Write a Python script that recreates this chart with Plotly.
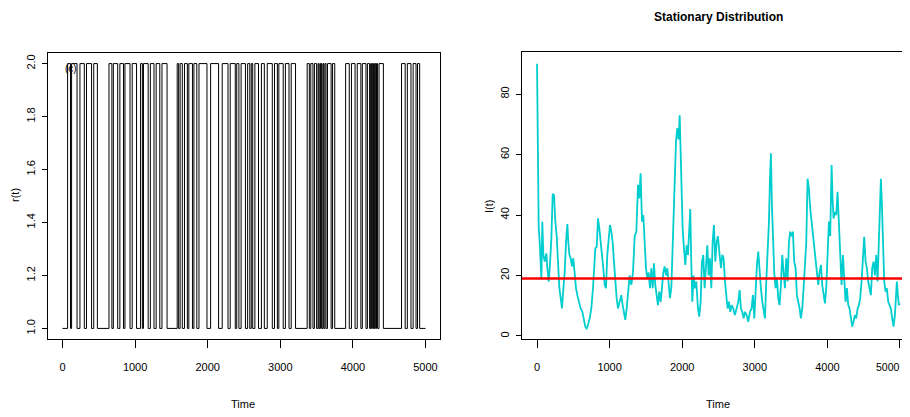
import plotly.graph_objects as go

# ---------------- data ----------------
# Left panel: regime r(t) switches between 1 and 2 (start in state 1)
r_start_state = 1
r_switch_times = [
    70, 110, 125, 200, 240, 300, 330, 400, 430, 480,
    640, 680, 700, 760, 790, 840, 860, 930, 960, 1020,
    1075, 1100, 1115, 1180, 1210, 1260, 1290, 1340, 1370, 1440,
    1580, 1600, 1620, 1650, 1680, 1720, 1740, 1790, 1810, 1850, 1880, 1990,
    2040, 2150, 2200, 2280, 2310, 2380, 2400, 2430, 2460, 2520, 2550, 2580,
    2600, 2620, 2650, 2700, 2740, 2780, 2820, 2890,
    2920, 2960, 2980, 3040, 3070, 3120, 3150, 3210,
    3370, 3400, 3420, 3450, 3470, 3500, 3520, 3530, 3545, 3555, 3565, 3575,
    3590, 3600, 3615, 3630, 3650, 3700, 3720, 3750,
    3900, 3950, 3980, 4030, 4060, 4110, 4130, 4180, 4200, 4230, 4245, 4255,
    4265, 4275, 4285, 4295, 4305, 4315, 4325, 4340, 4360, 4420,
    4670, 4720, 4750, 4800, 4830, 4870, 4890, 4920,
]
r_end_time = 5000

# Right panel: I(t) trajectory
I_time = [
    0, 14, 23, 37, 50, 60, 73, 87, 106, 129, 142, 161, 174, 197, 216, 234, 252, 271, 289, 308,
    326, 344, 363, 381, 399, 418, 431, 445, 464, 482, 500, 519, 537, 555, 574, 601, 624, 647, 666, 684,
    702, 725, 748, 771, 785, 803, 822, 840, 858, 877, 895, 913, 932, 950, 968, 987, 1005, 1024, 1042, 1060,
    1079, 1097, 1115, 1138, 1161, 1180, 1198, 1216, 1235, 1253, 1276, 1299, 1322, 1345, 1368, 1391, 1409, 1427, 1446, 1464,
    1483, 1501, 1519, 1538, 1556, 1574, 1593, 1611, 1629, 1648, 1666, 1684, 1703, 1721, 1740, 1758, 1776, 1795, 1813, 1831,
    1850, 1868, 1887, 1900, 1914, 1932, 1951, 1965, 1978, 1987, 2006, 2024, 2043, 2061, 2079, 2098, 2111, 2125, 2139, 2157,
    2171, 2194, 2217, 2235, 2254, 2272, 2290, 2309, 2327, 2346, 2364, 2382, 2401, 2419, 2437, 2456, 2474, 2492,
    2515, 2534, 2552, 2570, 2589, 2607, 2625, 2644, 2662, 2681, 2703, 2726, 2749, 2772, 2791, 2809, 2827, 2846, 2864, 2887,
    2910, 2933, 2956, 2974, 2993, 3011, 3029, 3048, 3066, 3084, 3103, 3121, 3140, 3158, 3176, 3195, 3208, 3222, 3236, 3250,
    3268, 3286, 3305, 3323, 3341, 3360, 3378, 3397, 3415, 3433, 3452, 3470, 3488, 3507, 3525, 3543, 3562, 3580, 3599, 3617,
    3635, 3654, 3672, 3690, 3709, 3727, 3745, 3764, 3782, 3800, 3819, 3837, 3856, 3874, 3892, 3911, 3929, 3947, 3966, 3984,
    4002, 4021, 4039, 4058, 4071, 4085, 4103, 4122, 4140, 4158, 4177, 4195, 4214, 4232, 4250, 4269, 4287, 4305, 4324, 4342,
    4360, 4379, 4397, 4416, 4434, 4452, 4471, 4489, 4507, 4526, 4544, 4562, 4581, 4599, 4617, 4636, 4654, 4673, 4691, 4709,
    4723, 4737, 4751, 4764, 4783, 4801, 4819, 4838, 4856, 4874, 4893, 4911, 4930, 4943, 4957, 4971, 4985, 4998,
]
I_value = [
    90, 49, 36, 31, 24.6, 18.8, 37.8, 26.8, 24.6, 27.3, 22.4, 18, 22, 32, 47, 46.6, 37.8, 33, 24.6, 15.8,
    12.5, 9.1, 15.8, 21, 31, 37, 31, 27, 25.7, 23, 25.7, 20, 15.8, 13.5, 11.3, 9.1, 8, 5.8, 3, 2.5,
    3.6, 5.8, 9.1, 15.8, 21, 29, 29.5, 38.9, 35.6, 30, 25.7, 22.4, 16.9, 15.8, 26.8, 33, 36.7, 34.5, 31, 24.6,
    18, 12.5, 9.1, 11.3, 13.5, 10.2, 8, 5.3, 9.1, 13.5, 20, 16.9, 21, 33, 34.5, 50, 45.5, 53.8, 37.8, 40,
    27.9, 22.4, 19, 21, 15.8, 22.4, 15.8, 24, 16.9, 12.5, 10.2, 14.7, 11.3, 15.8, 21, 23, 20, 22.4, 15.8, 12.5,
    15.8, 31, 43, 55, 64, 68.7, 65, 73, 60, 49, 35.6, 29, 23.5, 30, 26.8, 35.6, 42, 24.6, 11.3, 20,
    15.8, 18, 9.1, 6.4, 11.3, 24.6, 26.8, 15.8, 22.4, 30, 20, 25.7, 15.8, 31, 36.7, 24.6, 31, 33,
    26.8, 22.4, 26.8, 25.7, 18, 13.5, 9.1, 11.3, 8, 10.2, 9.1, 6.9, 9.1, 11.3, 15.2, 9.1, 8, 5.8, 8, 6.9,
    4.7, 8, 9.1, 13.5, 5.8, 18, 23.5, 27.9, 21, 15.8, 11.3, 9.1, 5.8, 18, 26.8, 37.8, 51, 60.4, 43.3, 31,
    21, 15.8, 19, 12.5, 10.2, 16.9, 26.8, 21, 15.8, 25.7, 18, 31, 34.5, 33, 34.5, 24.6, 22.4, 13.5, 11.3, 9.1,
    5.8, 9.1, 15.8, 22.4, 31, 52, 48.8, 42, 37.8, 34.5, 31, 26.8, 22.4, 16.9, 21, 23.5, 16.9, 13.5, 10.8, 15.8,
    24.6, 37.8, 33, 56.5, 45.5, 38.9, 41, 40, 47.7, 35.6, 26.8, 16.9, 26.8, 16.9, 11.3, 15.8, 10.2, 9.1, 5.8, 3.1,
    4.7, 6.9, 5.8, 9.1, 10.2, 12.5, 18, 26.8, 32.8, 24.6, 22.4, 18, 15.8, 13.5, 22.4, 24.6, 20, 26.8, 18, 30,
    38.9, 52, 43.3, 31, 18, 14.7, 15.8, 11.3, 10.2, 9.1, 5.8, 3.1, 6.9, 13.5, 18, 13.5, 10.2, 10.8,
]
stationary_level = 19

x_ticks = [0, 1000, 2000, 3000, 4000, 5000]
x_tick_text = ["0", "1000", "2000", "3000", "4000", "5000"]
r_ticks = [1.0, 1.2, 1.4, 1.6, 1.8, 2.0]
r_tick_text = ["1.0", "1.2", "1.4", "1.6", "1.8", "2.0"]
I_ticks = [0, 20, 40, 60, 80]

# ---------------- build step series ----------------
r_x = [0] + r_switch_times + [r_end_time]
r_y = []
state = r_start_state
r_y.append(state)
for _ in r_switch_times:
    state = 3 - state
    r_y.append(state)
r_y.append(state)

FONT = "Liberation Sans, Arial, sans-serif"
OFF = 8            # page body margin
W, H = 910 - OFF, 417 - 2 * OFF

def px_x(p):
    return (p - OFF) / W

def px_y(p):
    return 1 - (p - OFF) / H

fig = go.Figure()
fig.add_trace(go.Scatter(x=r_x, y=r_y, mode="lines", line=dict(color="black", width=1, shape="hv"),
                         xaxis="x", yaxis="y", showlegend=False, hoverinfo="skip"))
fig.add_trace(go.Scatter(x=I_time, y=I_value, mode="lines", line=dict(color="#00CDCD", width=1.8),
                         xaxis="x2", yaxis="y2", showlegend=False, hoverinfo="skip"))

fig.add_shape(type="line", xref="x2 domain", yref="y2", x0=0, x1=1, y0=stationary_level, y1=stationary_level,
              line=dict(color="red", width=2.5))

axis_common = dict(showgrid=False, zeroline=False, showline=True, linecolor="black", linewidth=1,
                   ticks="outside", tickcolor="black", tickwidth=1,
                   tickfont=dict(family=FONT, size=11, color="black"))

# right panel: last x label is placed as an annotation so it stays visible at the page edge
x2_tick_text = x_tick_text[:-1] + [""]

fig.update_layout(
    width=W, height=H, margin=dict(l=0, r=0, t=0, b=0),
    paper_bgcolor="white", plot_bgcolor="white",
    xaxis=dict(domain=[px_x(48), px_x(440)], range=[-200, 5200], tickvals=x_ticks, ticktext=x_tick_text,
               ticklen=8, ticklabelstandoff=10, mirror=True, anchor="y", **axis_common),
    yaxis=dict(domain=[px_y(339), px_y(53)], range=[0.96, 2.04], tickvals=r_ticks, ticktext=r_tick_text,
               ticklen=5, tickangle=-90, ticklabelstandoff=3, mirror=True, anchor="x", **axis_common),
    xaxis2=dict(domain=[px_x(522), 1.0], range=[-207, 5138], tickvals=x_ticks, ticktext=x2_tick_text,
                ticklen=8, ticklabelstandoff=10, mirror=True, anchor="y2", **axis_common),
    yaxis2=dict(domain=[px_y(339), px_y(52)], range=[-1.0, 93.9], tickvals=I_ticks,
                ticklen=5, tickangle=-90, ticklabelstandoff=3, anchor="x2", **axis_common),
)

ann_font = dict(family=FONT, size=11, color="black")

def label(text, x, y, angle=0, font=ann_font, xanchor="center"):
    fig.add_annotation(text=text, x=px_x(x), y=px_y(y), xref="paper", yref="paper",
                       xanchor=xanchor, yanchor="middle", showarrow=False, textangle=angle, font=font)

label(x_tick_text[-1], 902, 367, xanchor="right", font=dict(family=FONT, size=10.5, color="black"))
label("Time", 243, 404)
label("Time", 718, 404)
label("r(t)", 15, 195, -90)
label("I(t)", 489, 206, -90)
label("<b>Stationary Distribution</b>", 718, 17, 0, dict(family=FONT, size=12, color="black"))
label("(c)", 71, 68, 0, dict(family=FONT, size=10, color="black"))

fig.write_html("out.html")
